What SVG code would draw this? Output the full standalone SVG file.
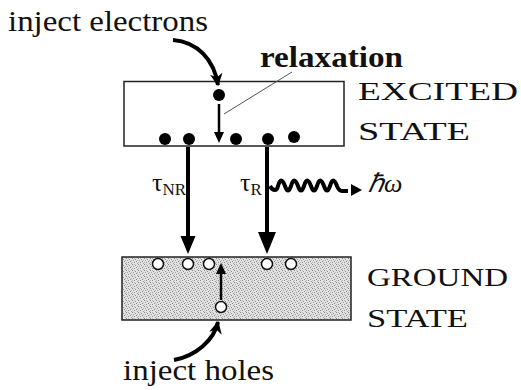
<svg xmlns="http://www.w3.org/2000/svg" width="521" height="390" viewBox="0 0 521 390" font-family="'Liberation Serif', 'Times New Roman', serif">
  <defs>
    <pattern id="stipple" width="6" height="6" patternUnits="userSpaceOnUse">
      <rect width="6" height="6" fill="#e2e2e2"/>
      <rect x="0" y="0" width="1" height="1" fill="#858585"/>
      <rect x="3" y="1" width="1" height="1" fill="#8f8f8f"/>
      <rect x="1" y="2" width="1" height="1" fill="#a0a0a0"/>
      <rect x="4" y="3" width="1" height="1" fill="#858585"/>
      <rect x="2" y="4" width="1" height="1" fill="#8f8f8f"/>
      <rect x="5" y="5" width="1" height="1" fill="#a0a0a0"/>
      <rect x="5" y="2" width="1" height="1" fill="#b8b8b8"/>
      <rect x="0" y="4" width="1" height="1" fill="#b8b8b8"/>
      <rect x="2" y="0" width="1" height="1" fill="#b8b8b8"/>
    </pattern>
    <marker id="head" viewBox="0 0 10 10" refX="9" refY="5" markerWidth="3.2" markerHeight="3.2" orient="auto" markerUnits="strokeWidth">
      <path d="M0,0 L10,5 L0,10 L3,5 Z" fill="#000"/>
    </marker>
  </defs>
  <style>
    text { font-family: "Liberation Serif", "Times New Roman", serif; fill: #111; }
    .lbl { font-size: 30px; }
    .state { font-size: 26px; }
    .sym { font-size: 26px; }
    .sub { font-size: 17px; }
    .box { stroke: #222; stroke-width: 1.5; }
    .e { fill: #000; }
    .h { fill: #fff; stroke: #111; stroke-width: 1.5; }
    .thick { stroke: #000; stroke-width: 4; fill: none; }
    .wave { stroke: #000; stroke-width: 4; fill: none; stroke-linejoin: round; }
  </style>
  <rect width="521" height="390" fill="#fff"/>

  <g id="excited-state">
    <rect class="box" x="124" y="81.5" width="220" height="64.5" fill="#fff"/>
    <circle class="e" cx="219" cy="95" r="6"/>
    <circle class="e" cx="165" cy="139" r="6"/>
    <circle class="e" cx="189" cy="139" r="6"/>
    <circle class="e" cx="236" cy="139" r="6"/>
    <circle class="e" cx="268" cy="139" r="6"/>
    <circle class="e" cx="294" cy="137" r="6"/>
    <text class="state" x="358" y="100" textLength="160" lengthAdjust="spacingAndGlyphs">EXCITED</text>
    <text class="state" x="358" y="140" textLength="112" lengthAdjust="spacingAndGlyphs">STATE</text>
  </g>

  <g id="ground-state">
    <rect class="box" x="122" y="257" width="229" height="63" fill="url(#stipple)"/>
    <circle class="h" cx="158" cy="264" r="5.5"/>
    <circle class="h" cx="188" cy="264" r="5.5"/>
    <circle class="h" cx="209" cy="264" r="5.5"/>
    <circle class="h" cx="267" cy="264" r="5.5"/>
    <circle class="h" cx="291" cy="264" r="5.5"/>
    <circle class="h" cx="221" cy="307" r="5.5"/>
    <text class="state" x="367" y="286" textLength="141" lengthAdjust="spacingAndGlyphs">GROUND</text>
    <text class="state" x="367" y="327" textLength="101" lengthAdjust="spacingAndGlyphs">STATE</text>
  </g>

  <g id="labels">
    <text class="lbl" x="8" y="31" textLength="200" lengthAdjust="spacingAndGlyphs">inject electrons</text>
    <text class="lbl" x="260" y="67" font-weight="bold" font-size="27" textLength="143" lengthAdjust="spacingAndGlyphs">relaxation</text>
    <text class="lbl" x="123" y="380" textLength="151" lengthAdjust="spacingAndGlyphs">inject holes</text>
    <text class="sym" x="152" y="191">τ<tspan class="sub" dy="4">NR</tspan></text>
    <text class="sym" x="240" y="191">τ<tspan class="sub" dy="4">R</tspan></text>
    <text class="sym" x="368" y="192" font-style="italic">ℏω</text>
  </g>

  <g id="connectors">
    <!-- inject electrons -->
    <path class="thick" d="M173,40 C198,42 214,60 218,85" marker-end="url(#head)"/>
    <!-- relaxation leader -->
    <line x1="292" y1="72" x2="224" y2="114" stroke="#555" stroke-width="1"/>
    <!-- relaxation arrow -->
    <line x1="219" y1="104" x2="219" y2="134" stroke="#000" stroke-width="2.5"/>
    <polygon points="214,132 224,132 219,143" fill="#000"/>
    <!-- non-radiative -->
    <line x1="188" y1="147" x2="188" y2="240" stroke="#000" stroke-width="4"/>
    <polygon points="180.5,236 195.5,236 188,254" fill="#000"/>
    <!-- radiative -->
    <line x1="267" y1="147" x2="267" y2="236" stroke="#000" stroke-width="4"/>
    <polygon points="258,232 276,232 267,254" fill="#000"/>
    <!-- photon -->
    <path class="wave" d="M270,186 q2,4 5,4 q2,0 3,-4 q3,-11 7,0 q3,9 6,0 q3,-11 7,0 q3,9 6,0 q3,-11 7,0 q3,9 6,0 q3,-11 7,0 q3,9 6,0 q3,-11 7,0 q2,5 5,5 l6,0"/>
    <polygon points="351,184 362,190 351,196" fill="#000"/>
    <!-- hole relaxation -->
    <line x1="221" y1="300" x2="221" y2="272" stroke="#000" stroke-width="2.5"/>
    <polygon points="216,274 226,274 221,263" fill="#000"/>
    <!-- inject holes -->
    <path class="thick" d="M174,360 C196,356 214,340 218,322" marker-end="url(#head)"/>
  </g>
</svg>
